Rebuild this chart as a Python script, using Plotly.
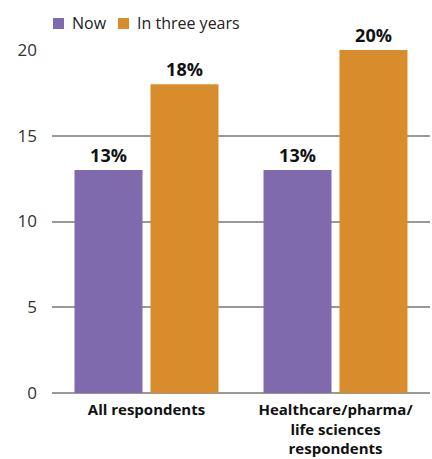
import plotly.graph_objects as go

categories = ["All respondents", "Healthcare/pharma/<br>life sciences<br>respondents"]
series_names = ["Now", "In three years"]
now_values = [13, 13]
three_year_values = [18, 20]
y_ticks = [0, 5, 10, 15, 20]

purple = "#7f6aad"
orange = "#d98c2b"
font_family = "Open Sans, DejaVu Sans, sans-serif"

W, H = 432, 459
ML, MR, MT, MB = 52, 2, 50, 66
PW, PH = W - ML - MR, H - MT - MB


def px_x(x):
    return (x - ML) / PW


def px_y(y):
    return (H - MB - y) / PH


fig = go.Figure()
for name, vals, col in [(series_names[0], now_values, purple),
                        (series_names[1], three_year_values, orange)]:
    fig.add_trace(go.Bar(
        name=name, x=categories, y=vals, marker_color=col, marker_line_width=0,
        text=[f"{v}%" for v in vals], textposition="outside",
        textfont=dict(size=18, color="#111", family=font_family, weight="bold"),
        cliponaxis=False, showlegend=False,
    ))

# legend drawn as coloured squares with labels above the plot
legend_items = [(series_names[0], purple, 53), (series_names[1], orange, 118)]
for name, col, x0 in legend_items:
    fig.add_shape(type="rect", xref="paper", yref="paper",
                  x0=px_x(x0), x1=px_x(x0 + 11), y0=px_y(29), y1=px_y(18),
                  fillcolor=col, line_width=0)
    fig.add_annotation(xref="paper", yref="paper", x=px_x(x0 + 17), y=px_y(23),
                       text=name, showarrow=False, xanchor="left", yanchor="middle",
                       font=dict(size=16, color="#222", family=font_family))

fig.update_layout(
    width=W, height=H,
    margin=dict(l=ML, r=MR, t=MT, b=MB),
    paper_bgcolor="white", plot_bgcolor="white",
    barmode="group", bargap=0.196, bargroupgap=0.105,
    font=dict(family=font_family, size=16, color="#222"),
    showlegend=False,
)
fig.update_yaxes(range=[0, 20], tickvals=y_ticks, showgrid=True, gridcolor="#999",
                 gridwidth=2, zeroline=True, zerolinecolor="#999", zerolinewidth=2,
                 ticks="", ticklabelstandoff=14, tickfont=dict(size=17, color="#333"))
fig.update_xaxes(showgrid=False, showline=False, ticks="", ticklabelstandoff=6,
                 tickfont=dict(size=15, color="#111", family=font_family, weight="bold"))

fig.write_html("out.html")
